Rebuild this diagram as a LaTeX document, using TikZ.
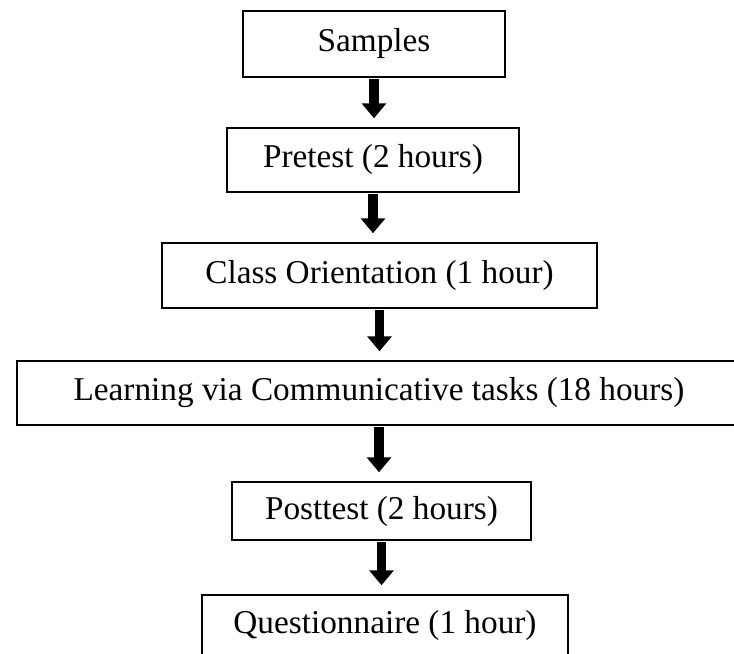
\documentclass[tikz,border=0pt]{standalone}
\usepackage{fontspec}
\setmainfont{Liberation Serif}
\usepackage{xcolor}
\usetikzlibrary{arrows.meta}

\begin{document}
\begin{tikzpicture}[x=0.03cm, y=-0.03cm,
    stage/.style={draw, line width=2.4pt, inner sep=0pt, font=\fontsize{28.4}{34}\selectfont},
    flow/.style={line width=8.5pt, -{Triangle[width=0.72cm,length=0.45cm]}, shorten <=0.03cm, shorten >=0.25cm}]
  \useasboundingbox (0,0) rectangle (734,654);
  \node[stage, minimum width=7.86cm,  minimum height=1.98cm] (samples)  at (374,44)    {Samples};
  \node[stage, minimum width=8.76cm,  minimum height=1.92cm] (pretest)  at (373,160)   {Pretest (2 hours)};
  \node[stage, minimum width=13.05cm, minimum height=1.95cm] (orient)   at (379.5,275.5) {Class Orientation (1 hour)};
  \node[stage, minimum width=21.72cm, minimum height=1.92cm] (learning) at (379,393)   {Learning via Communicative tasks (18 hours)};
  \node[stage, minimum width=8.97cm,  minimum height=1.74cm] (posttest) at (381.5,511) {Posttest (2 hours)};
  \node[stage, minimum width=10.98cm, minimum height=1.8cm]  (quest)    at (385,625)   {Questionnaire (1 hour)};
  \foreach \a/\b in {samples/pretest, pretest/orient, orient/learning, learning/posttest, posttest/quest} {
    \draw[flow] (\a.south) -- (\a.south |- \b.north);
  }
\end{tikzpicture}
\end{document}
